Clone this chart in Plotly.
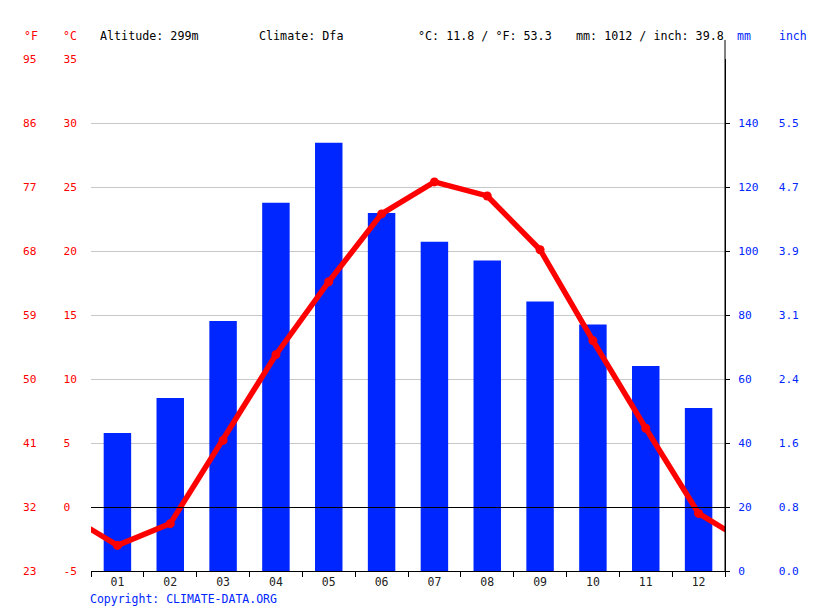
import plotly.graph_objects as go

# Climate data
months = list(range(1, 13))
month_labels = ["01", "02", "03", "04", "05", "06", "07", "08", "09", "10", "11", "12"]
temp_c = [-3.0, -1.3, 5.2, 11.9, 17.6, 22.9, 25.4, 24.3, 20.1, 13.0, 6.15, -0.5]
precip_mm = [43.1, 54.1, 78.1, 115.1, 133.8, 111.9, 102.9, 97.0, 84.2, 77.0, 64.1, 50.9]

celsius_ticks = [-5, 0, 5, 10, 15, 20, 25, 30, 35]
fahrenheit_ticks = [23, 32, 41, 50, 59, 68, 77, 86, 95]
mm_ticks = [0, 20, 40, 60, 80, 100, 120, 140]
inch_ticks = ["0.0", "0.8", "1.6", "2.4", "3.1", "3.9", "4.7", "5.5"]

header = [
    ("Altitude: 299m", 100),
    ("Climate: Dfa", 259),
    ("°C: 11.8 / °F: 53.3", 418),
    ("mm: 1012 / inch: 39.8", 576),
]

W, H = 815, 611
OX, OY = 8, 8  # page body margin
RED = "#ff0000"
BLUE = "#0026ff"
FONT = "DejaVu Sans Mono"
NB = "\u00a0"


def fx(px):
    return (px - OX) / W


def fy(py):
    return 1 - (py - OY) / H


# wrap December / January around so the line runs to both edges
line_x = [0] + months + [13]
line_y = [temp_c[-1]] + temp_c + [temp_c[0]]

left_text = [f"{f}" + NB * 4 + f"{c}".ljust(2, NB) for f, c in zip(fahrenheit_ticks, celsius_ticks)]
right_text = [f"{m}".ljust(3, NB) + NB * 3 + i for m, i in zip(mm_ticks, inch_ticks)]

fig = go.Figure()

fig.add_trace(go.Bar(
    x=months, y=precip_mm, yaxis="y", name="Precipitation",
    marker_color=BLUE, marker_line_width=0,
))

fig.add_trace(go.Scatter(
    x=line_x, y=line_y, yaxis="y2", mode="lines+markers", name="Temperature",
    line=dict(color=RED, width=5.5), marker=dict(color=RED, size=9),
    cliponaxis=True,
))

fig.update_layout(
    template="none",
    width=W, height=H,
    margin=dict(l=0, r=0, t=0, b=0, autoexpand=False),
    plot_bgcolor="white", paper_bgcolor="white",
    showlegend=False,
    bargap=0.48,
    font=dict(family=FONT, size=11, color="#222"),
    xaxis=dict(
        domain=[fx(91), fx(725)],
        range=[0.5, 12.5],
        tickmode="array", tickvals=months, ticktext=month_labels,
        ticks="", showgrid=False, zeroline=False, automargin=False,
        showline=True, linecolor="black", linewidth=1,
        tickfont=dict(family=FONT, size=11.5, color="#222"),
        minor=dict(tick0=0.5, dtick=1, ticks="outside", ticklen=5,
                   tickcolor="black", showgrid=False),
    ),
    yaxis=dict(
        domain=[fy(571), fy(59)],
        side="right", anchor="x",
        range=[0, 160],
        tickmode="array", tickvals=mm_ticks, ticktext=right_text,
        ticks="outside", ticklen=4, tickcolor="black", ticklabelstandoff=6,
        showgrid=False, zeroline=False, automargin=False,
        showline=True, linecolor="black", linewidth=1,
        tickfont=dict(family=FONT, size=11.2, color=BLUE),
    ),
    yaxis2=dict(
        overlaying="y", side="left", anchor="x",
        range=[-5, 35],
        tickmode="array", tickvals=celsius_ticks, ticktext=left_text,
        ticks="", ticklabelstandoff=13, automargin=False,
        showgrid=True, gridcolor="#c8c8c8", gridwidth=1,
        zeroline=True, zerolinecolor="black", zerolinewidth=1,
        zerolinelayer="above traces",
        showline=False,
        tickfont=dict(family=FONT, size=11.2, color=RED),
    ),
)

# right axis line runs up above the plot area
fig.add_shape(type="line", xref="x domain", yref="y domain",
              x0=1, x1=1, y0=0, y1=(571 - 40) / 512,
              line=dict(color="black", width=1))

labels = [(t, px, "black", 11.7) for t, px in header] + [
    ("°F", 24, RED, 11.5), ("°C", 63, RED, 11.5), ("mm", 737, BLUE, 11.5), ("inch", 779, BLUE, 11.5),
]
for text, px, color, size in labels:
    fig.add_annotation(text=text, x=fx(px), y=fy(36), xref="paper", yref="paper",
                       xanchor="left", yanchor="middle", showarrow=False,
                       borderpad=0, borderwidth=0,
                       font=dict(family=FONT, size=size, color=color))

fig.add_annotation(text="Copyright: CLIMATE-DATA.ORG", x=fx(90), y=fy(599),
                   xref="paper", yref="paper", xanchor="left", yanchor="middle",
                   showarrow=False, borderpad=0, borderwidth=0,
                   font=dict(family=FONT, size=11.5, color=BLUE))

fig.write_html("out.html")
